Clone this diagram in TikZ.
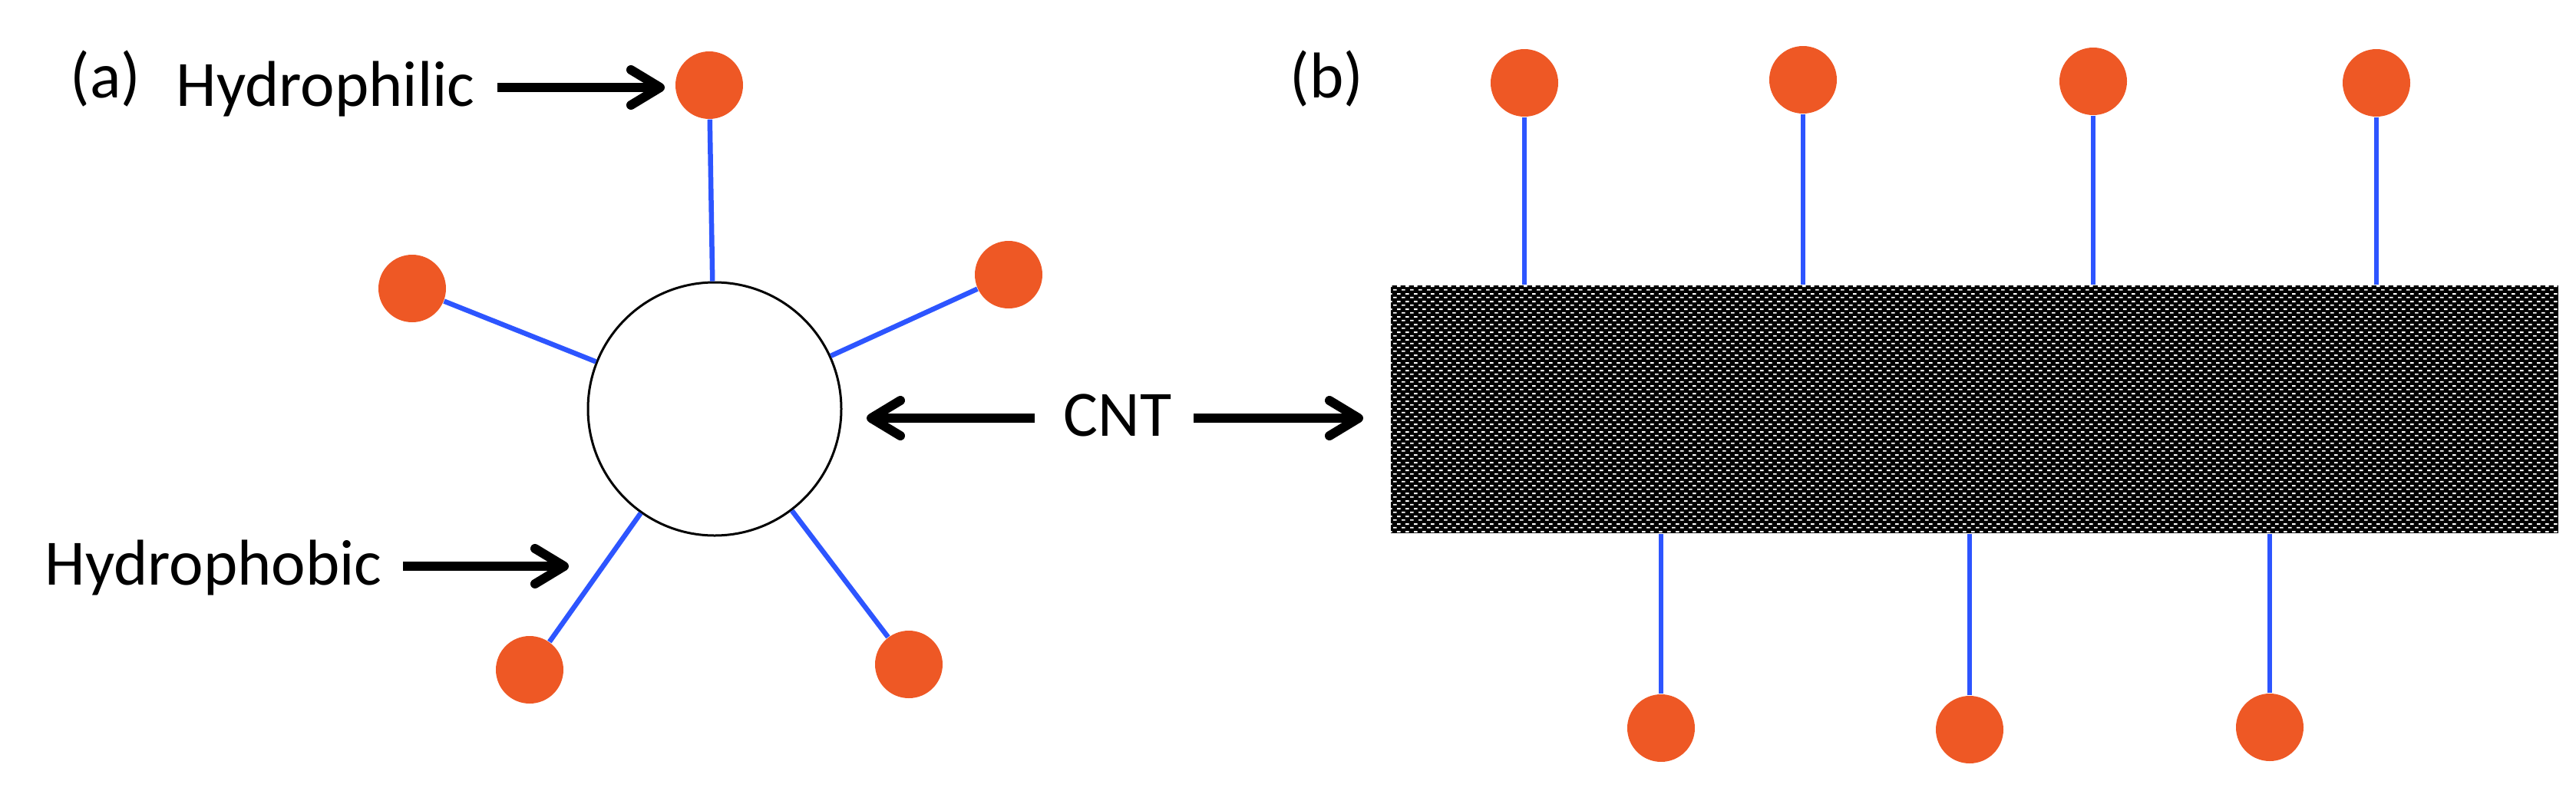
\documentclass[tikz,border=0pt]{standalone}
\usepackage{fontspec}
\setmainfont{Carlito}
\usetikzlibrary{arrows.meta,patterns}
\definecolor{ballorange}{RGB}{238,88,37}
\definecolor{stickblue}{RGB}{45,85,255}
\pgfdeclarepatternformonly{cntdash}{\pgfpointorigin}{\pgfqpoint{0.11cm}{0.10cm}}{\pgfqpoint{0.11cm}{0.10cm}}{%
  \pgfpathrectangle{\pgfqpoint{0cm}{0.015cm}}{\pgfqpoint{0.05cm}{0.02cm}}%
  \pgfpathrectangle{\pgfqpoint{0.055cm}{0.065cm}}{\pgfqpoint{0.05cm}{0.02cm}}%
  \pgfusepath{fill}}
\tikzset{
  ball/.style={circle, fill=ballorange, minimum size=0.88cm, inner sep=0pt},
  stick/.style={draw=stickblue, line width=0.065cm},
  lbl/.style={inner sep=0pt, anchor=base west, font=\fontsize{24pt}{28pt}\selectfont},
  arr/.style={line width=0.12cm, -{Straight Barb[length=0.38cm, width=0.46cm, round]}},
  tube/.style={circle, draw=black, line width=0.03cm, minimum size=3.3cm, inner sep=0pt, fill=white},
  cntbox/.style={fill=black, minimum width=15.21cm, minimum height=3.23cm, inner sep=0pt,
    postaction={pattern=cntdash, pattern color=white}}
}
\begin{document}
\begin{tikzpicture}
\useasboundingbox (0,0) rectangle (33.56,-10.30);
% ---------- (a) ----------
\node[lbl] (la) at (0.91,-1.27) {(a)};
\node[lbl] (hphil) at (2.29,-1.38) {Hydrophilic};
\node[lbl] (hphob) at (0.58,-7.62) {Hydrophobic};
\node[lbl] (cntl) at (13.85,-5.68) {CNT};

\node[tube] (circ) at (9.31,-5.33) {};
\node[ball] (a1) at (9.24,-1.11) {};
\node[ball] (a2) at (5.37,-3.76) {};
\node[ball] (a3) at (13.14,-3.58) {};
\node[ball] (a4) at (6.90,-8.73) {};
\node[ball] (a5) at (11.84,-8.66) {};
\foreach \b in {a1,a2,a3,a4,a5} \draw[stick] (\b) -- (circ);

% ---------- (b) ----------
\node[lbl] (lb) at (16.80,-1.27) {(b)};
\node[cntbox] (cnt) at (25.725,-5.335) {};
\node[ball] (t1) at (19.86,-1.08) {};
\node[ball] (t2) at (23.49,-1.04) {};
\node[ball] (t3) at (27.27,-1.06) {};
\node[ball] (t4) at (30.96,-1.08) {};
\node[ball] (u1) at (21.64,-9.49) {};
\node[ball] (u2) at (25.66,-9.51) {};
\node[ball] (u3) at (29.57,-9.48) {};
\foreach \b in {t1,t2,t3,t4} \draw[stick] (\b) -- (\b |- cnt.north);
\foreach \b in {u1,u2,u3} \draw[stick] (\b) -- (\b |- cnt.south);

% ---------- arrows ----------
\coordinate (p1s) at (6.48,-1.14);
\coordinate (p1e) at (8.66,-1.14);
\coordinate (p2s) at (5.25,-7.38);
\coordinate (p2e) at (7.41,-7.38);
\coordinate (p3s) at (13.48,-5.45);
\coordinate (p3e) at (11.29,-5.45);
\coordinate (p4s) at (15.55,-5.45);
\coordinate (p4e) at (17.76,-5.45);
\draw[arr] (p1s) -- (p1e);
\draw[arr] (p2s) -- (p2e);
\draw[arr] (p3s) -- (p3e);
\draw[arr] (p4s) -- (p4e);
\end{tikzpicture}
\end{document}
